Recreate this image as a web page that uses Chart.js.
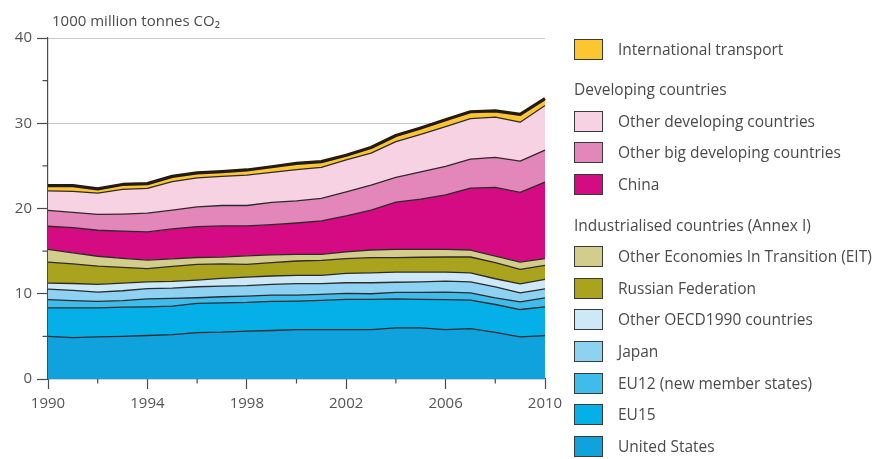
<!DOCTYPE html>
<html>
<head>
<meta charset="utf-8">
<script src="https://cdn.jsdelivr.net/npm/chart.js@4.4.0/dist/chart.umd.min.js"></script>
<style>
  body { margin: 0; background: #fff; font-family: "Open Sans", sans-serif; }
  #wrap { position: relative; width: 881px; height: 459px; overflow: hidden; }
  #c { position: absolute; left: 0; top: 0; }
  .ytitle { position: absolute; left: 52px; top: 10px; font-size: 15px; color: #4a4a4a; line-height: 20px; }
  .lg { position: absolute; left: 574px; height: 21px; font-size: 15.5px; color: #4a4a4a; white-space: nowrap; line-height: 21px; }
  .lg .box { position: absolute; left: 0; top: 0; width: 27px; height: 19px; border: 1px solid #3a3a3a; }
  .lg .txt { position: absolute; left: 44px; top: 0; }
  .lg.head .txt { left: 0; }
</style>
</head>
<body>
<div id="wrap">
  <canvas id="c" width="881" height="459"></canvas>
  <div class="ytitle">1000 million tonnes CO₂</div>
  <div id="legend"></div>
</div>
<script>
// ---- Data (1000 million tonnes CO2, per series, stacked bottom to top) ----
const years = [1990,1991,1992,1993,1994,1995,1996,1997,1998,1999,2000,2001,2002,2003,2004,2005,2006,2007,2008,2009,2010];

const unitedStates = [5.00,4.85,4.94,5.00,5.10,5.20,5.45,5.49,5.62,5.69,5.80,5.80,5.80,5.80,6.00,6.00,5.80,5.90,5.48,4.93,5.09];
const eu15         = [3.35,3.50,3.41,3.43,3.37,3.35,3.41,3.45,3.36,3.41,3.34,3.42,3.53,3.53,3.40,3.35,3.52,3.35,3.26,3.22,3.37];
const eu12         = [0.95,0.85,0.75,0.77,0.93,0.90,0.67,0.71,0.74,0.74,0.70,0.70,0.71,0.67,0.75,0.80,0.87,0.86,0.78,0.90,1.06];
const japan        = [1.25,1.20,1.10,1.15,1.20,1.20,1.29,1.25,1.23,1.26,1.34,1.26,1.25,1.29,1.20,1.25,1.29,1.29,1.29,1.06,1.06];
const otherOECD    = [0.70,0.80,0.90,0.90,0.80,0.80,0.79,0.90,1.00,0.98,0.98,0.98,1.10,1.17,1.19,1.14,1.06,1.06,0.95,1.06,1.10];
const russia       = [2.47,2.30,2.15,1.85,1.55,1.75,1.84,1.70,1.50,1.57,1.68,1.76,1.73,1.77,1.69,1.74,1.77,1.85,1.88,1.68,1.64];
const otherEIT     = [1.48,1.30,1.15,1.05,1.00,0.90,0.80,0.80,1.00,0.90,0.79,0.71,0.78,0.90,0.97,0.92,0.90,0.82,0.78,0.87,0.79];
const china        = [2.72,2.96,3.05,3.20,3.30,3.50,3.63,3.66,3.51,3.55,3.67,3.92,4.24,4.67,5.55,5.90,6.39,7.27,8.05,8.16,8.99];
const otherBig     = [1.86,1.79,1.85,2.00,2.20,2.20,2.32,2.39,2.39,2.61,2.60,2.63,2.81,2.95,2.89,3.20,3.35,3.40,3.53,3.67,3.75];
const otherDev     = [2.29,2.45,2.50,2.90,2.90,3.35,3.40,3.41,3.57,3.52,3.65,3.64,3.75,3.75,4.21,4.40,4.65,4.75,4.71,4.57,5.23];
const intlTransport= [0.61,0.68,0.50,0.57,0.57,0.62,0.57,0.56,0.60,0.67,0.75,0.68,0.55,0.65,0.71,0.75,0.80,0.80,0.74,0.93,0.80];

const yTickLabels = [0, 10, 20, 30, 40];
const xTickLabels = [1990, 1994, 1998, 2002, 2006, 2010];

// ---- Series definitions (bottom to top) ----
const series = [
  { label: 'United States',                   data: unitedStates,  color: '#0FA2DD' },
  { label: 'EU15',                            data: eu15,          color: '#05B0E8' },
  { label: 'EU12 (new member states)',        data: eu12,          color: '#3EBDEC' },
  { label: 'Japan',                           data: japan,         color: '#8DD2F3' },
  { label: 'Other OECD1990 countries',        data: otherOECD,     color: '#CDE9F8' },
  { label: 'Russian Federation',              data: russia,        color: '#A9A31D' },
  { label: 'Other Economies In Transition (EIT)', data: otherEIT,  color: '#D3CD8C' },
  { label: 'China',                           data: china,         color: '#D40B83' },
  { label: 'Other big developing countries',  data: otherBig,      color: '#E386B9' },
  { label: 'Other developing countries',      data: otherDev,      color: '#F6D2E3' },
  { label: 'International transport',         data: intlTransport, color: '#FDC631' }
];

const datasets = series.map((s, i) => ({
  label: s.label,
  data: s.data,
  backgroundColor: s.color,
  borderColor: i === series.length - 1 ? '#231b12' : '#2e2a2a',
  borderWidth: i === series.length - 1 ? 3.2 : 1.3,
  fill: i === 0 ? 'origin' : '-1',
  pointRadius: 0,
  tension: 0
}));

const minorTicks = {
  id: 'minorTicks',
  afterDraw(chart) {
    const ctx = chart.ctx, ys = chart.scales.y, xs = chart.scales.x, ca = chart.chartArea;
    ctx.save();
    ctx.strokeStyle = '#4a4a4a';
    ctx.lineWidth = 1.2;
    ys.ticks.forEach(t => {
      if (t.value % 10 !== 0) {
        const py = ys.getPixelForValue(t.value);
        ctx.beginPath(); ctx.moveTo(ca.left - 5.5, py); ctx.lineTo(ca.left, py); ctx.stroke();
      }
    });
    years.forEach((yr, i) => {
      if (i % 2 === 0 && i % 4 !== 0) {
        const px = xs.getPixelForValue(i);
        ctx.beginPath(); ctx.moveTo(px, ca.bottom); ctx.lineTo(px, ca.bottom + 4.5); ctx.stroke();
      }
    });
    ctx.restore();
  }
};

new Chart(document.getElementById('c'), {
  type: 'line',
  data: { labels: years, datasets },
  plugins: [minorTicks],
  options: {
    responsive: false,
    animation: false,
    layout: { padding: { left: 0, right: 336, top: 38, bottom: 0 } },
    plugins: { legend: { display: false }, tooltip: { enabled: false } },
    elements: { line: { borderJoinStyle: 'round' } },
    scales: {
      x: {
        type: 'category',
        offset: false,
        afterFit(scale) { scale.height = 80; },
        border: { display: true, color: '#4a4a4a', width: 1.2 },
        grid: {
          drawOnChartArea: false,
          tickLength: 10,
          tickWidth: 1.2,
          tickColor: (c) => (c.index % 4 === 0 ? '#4a4a4a' : 'transparent')
        },
        ticks: {
          autoSkip: false,
          maxRotation: 0,
          padding: 6,
          color: '#555',
          font: { family: '"Open Sans", sans-serif', size: 15 },
          callback: function (v, i) {
            const yr = years[i];
            return xTickLabels.includes(yr) ? String(yr) : '';
          }
        }
      },
      y: {
        stacked: true,
        min: 0,
        max: 40,
        afterFit(scale) { scale.width = 48; },
        border: { display: true, color: '#4a4a4a', width: 1.2 },
        grid: {
          color: (c) => (c.tick && c.tick.value % 10 === 0 && c.tick.value > 0 ? '#c9c9c9' : 'transparent'),
          lineWidth: 1,
          tickLength: 11,
          tickWidth: 1.2,
          tickColor: (c) => (c.tick && c.tick.value % 10 === 0 ? '#4a4a4a' : 'transparent')
        },
        ticks: {
          stepSize: 5,
          padding: 5,
          color: '#555',
          font: { family: '"Open Sans", sans-serif', size: 15 },
          callback: (v) => (yTickLabels.includes(v) ? String(v) : '')
        }
      }
    }
  }
});

// ---- HTML legend with group headers ----
const legendRows = [
  { type: 'item', idx: 10, center: 49 },
  { type: 'head', text: 'Developing countries', center: 89 },
  { type: 'item', idx: 9, center: 121 },
  { type: 'item', idx: 8, center: 152.5 },
  { type: 'item', idx: 7, center: 184 },
  { type: 'head', text: 'Industrialised countries (Annex I)', center: 225.5 },
  { type: 'item', idx: 6, center: 256.5 },
  { type: 'item', idx: 5, center: 288 },
  { type: 'item', idx: 4, center: 319.5 },
  { type: 'item', idx: 3, center: 351 },
  { type: 'item', idx: 2, center: 383 },
  { type: 'item', idx: 1, center: 414.5 },
  { type: 'item', idx: 0, center: 446 }
];
const lg = document.getElementById('legend');
legendRows.forEach(r => {
  const row = document.createElement('div');
  row.className = 'lg' + (r.type === 'head' ? ' head' : '');
  row.style.top = (r.center - 10.5) + 'px';
  if (r.type === 'item') {
    const b = document.createElement('span');
    b.className = 'box';
    b.style.background = series[r.idx].color;
    row.appendChild(b);
  }
  const t = document.createElement('span');
  t.className = 'txt';
  t.textContent = r.type === 'item' ? series[r.idx].label : r.text;
  row.appendChild(t);
  lg.appendChild(row);
});
</script>
</body>
</html>
